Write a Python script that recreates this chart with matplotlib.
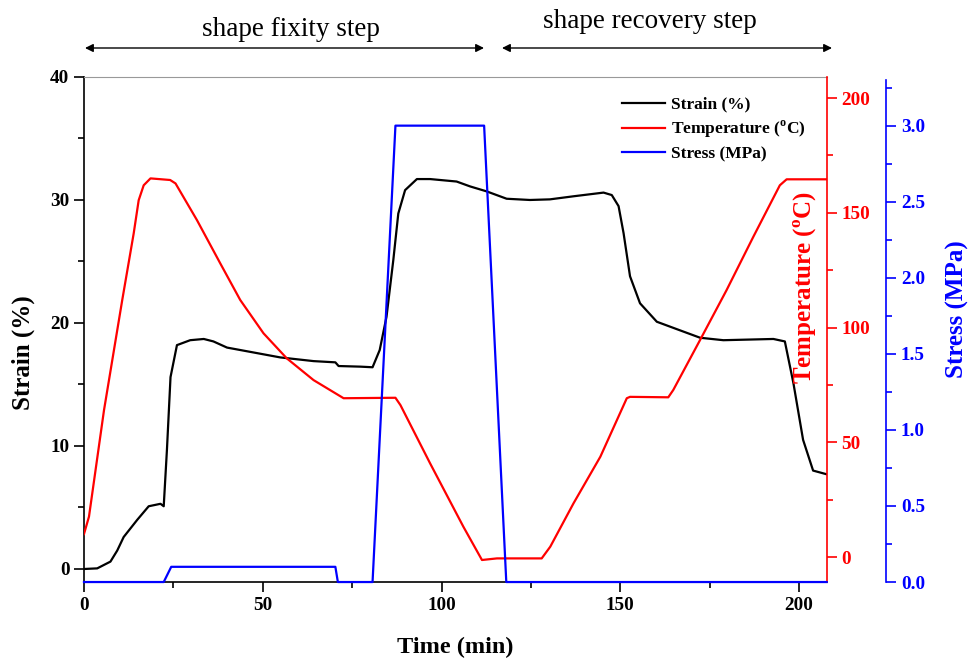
import numpy as np
import matplotlib
matplotlib.use('Agg')
import matplotlib.pyplot as plt
from matplotlib.ticker import MultipleLocator

plt.rcParams['font.family'] = ['Liberation Serif', 'DejaVu Serif']
plt.rcParams['font.weight'] = 'bold'
plt.rcParams['axes.labelweight'] = 'bold'
plt.rcParams['mathtext.fontset'] = 'custom'
plt.rcParams['mathtext.rm'] = 'Liberation Serif:bold'

# strain (%) vs time (min)
t_strain = [0, 3.7, 7.4, 9.3, 11.1, 14.9, 18.1, 21.4, 22.3, 23.2, 24.2, 26.0, 29.7, 33.5,
            36.2, 40, 45.6, 54.9, 64.2, 70.3, 71.2, 77.3, 80.7, 82.7, 84.6, 86.5, 87.9,
            89.8, 93.1, 96.8, 104.2, 108, 112.6, 118.2, 124.7, 130.3, 136.9, 145.3, 147.6,
            149.5, 150.9, 152.7, 155.5, 160.2, 166.7, 172.3, 178.8, 192.8, 196, 198.4,
            201.1, 203.9, 207.7]
strain = [0, 0.05, 0.6, 1.5, 2.6, 4.0, 5.1, 5.3, 5.1, 9.7, 15.6, 18.2, 18.6, 18.7,
          18.5, 18.0, 17.7, 17.2, 16.9, 16.8, 16.5, 16.45, 16.4, 17.8, 20.5, 25.1, 28.9,
          30.8, 31.7, 31.7, 31.5, 31.1, 30.7, 30.1, 30.0, 30.05, 30.3, 30.6, 30.4,
          29.5, 27.3, 23.8, 21.6, 20.1, 19.4, 18.8, 18.6, 18.7, 18.5, 15.1,
          10.5, 8.0, 7.7]

# temperature (C)
t_temp = [0, 1.4, 5.6, 10.7, 13.9, 15.3, 16.7, 18.6, 24.1, 25.6, 31.6, 38.1, 43.7, 50.2,
          56.7, 64.2, 72.6, 87.1, 88.5, 96.8, 106.1, 111.3, 115.5, 128, 130.4, 136.9,
          144.4, 151.8, 152.7, 163.4, 164.8, 172.3, 179.7, 187.2, 194.6, 196.5, 207.7]
temp = [10, 17.6, 64, 112, 141, 155.5, 162, 165, 164.3, 162.8, 146.8, 128, 112, 97.5,
        86.6, 77.1, 69.2, 69.4, 66.2, 40.8, 13.2, -1.3, -0.6, -0.6, 4.5, 23.4,
        43.7, 69.2, 69.8, 69.6, 72.8, 94.6, 116.3, 139.6, 162, 164.6, 164.6]

# stress (MPa)
t_stress = [0, 22.3, 24.4, 70.3, 71.0, 80.7, 87.1, 111.9, 118.1, 207.7]
stress = [0, 0, 0.1, 0.1, 0, 0, 3.0, 3.0, 0, 0]

fig = plt.figure(figsize=(9.72, 6.59), dpi=100)
ax = fig.add_axes([0.0864, 0.1168, 0.7641, 0.7664])
ax2 = ax.twinx()
ax3 = ax.twinx()

l1, = ax.plot(t_strain, strain, color='black', lw=1.6, label='Strain (%)')
l2, = ax2.plot(t_temp, temp, color='#ff0000', lw=1.6, label='Temperature ($^{\\rm o}$C)')
l3, = ax3.plot(t_stress, stress, color='#0000ff', lw=1.6, label='Stress (MPa)', clip_on=False)

ax.set_xlim(0, 207.7)
ax.set_ylim(-1.06, 40)
ax2.set_ylim(-10.9, 209.2)
ax3.set_ylim(0, 3.32)

ax.xaxis.set_major_locator(MultipleLocator(50))
ax.xaxis.set_minor_locator(MultipleLocator(25))
ax.yaxis.set_major_locator(MultipleLocator(10))
ax.yaxis.set_minor_locator(MultipleLocator(5))
ax2.yaxis.set_major_locator(MultipleLocator(50))
ax2.yaxis.set_minor_locator(MultipleLocator(25))
ax3.yaxis.set_major_locator(MultipleLocator(0.5))
ax3.yaxis.set_minor_locator(MultipleLocator(0.25))
ax3.yaxis.set_major_formatter(matplotlib.ticker.FormatStrFormatter('%.1f'))

for a in (ax, ax2, ax3):
    a.tick_params(which='major', length=7, width=1.2, labelsize=13.8)
    a.tick_params(which='minor', length=4, width=1.2)

ax.spines['left'].set_linewidth(1.2)
ax.spines['bottom'].set_linewidth(1.2)
ax.spines['top'].set_color('#999999')
ax.spines['top'].set_linewidth(0.8)
ax.spines['right'].set_visible(False)

for a in (ax2, ax3):
    a.spines['top'].set_visible(False)
    a.spines['left'].set_visible(False)
    a.spines['bottom'].set_visible(False)

ax2.spines['right'].set_color('#ff0000')
ax2.spines['right'].set_linewidth(1.2)
ax2.tick_params(axis='y', which='both', colors='#ff0000')

ax3.spines['right'].set_position(('outward', 43))
ax3.spines['right'].set_color('#0000ff')
ax3.spines['right'].set_linewidth(1.2)
ax3.spines['right'].set_bounds(0, 3.3)
ax3.tick_params(axis='y', which='both', colors='#0000ff')

ax.set_xlabel('Time (min)', fontsize=17.5, fontweight='bold')
ax.xaxis.label.set_va('center')
ax.xaxis.set_label_coords(0.5, -0.13)
ax.set_ylabel('Strain (%)', fontsize=18, fontweight='bold')
ax.yaxis.label.set_va('center')
ax.yaxis.set_label_coords(-0.082, 0.455)
ax2.set_ylabel('Temperature ($^{\\rm o}$C)', fontsize=18, fontweight='bold', color='#ff0000')
ax2.yaxis.label.set_va('center')
ax2.yaxis.set_label_coords(0.972, 0.584)
ax3.set_ylabel('Stress (MPa)', fontsize=18, fontweight='bold', color='#0000ff')
ax3.yaxis.label.set_va('center')
ax3.yaxis.set_label_coords(1.176, 0.54)

ax.legend(handles=[l1, l2, l3], loc='upper left', bbox_to_anchor=(0.715, 0.975),
          frameon=False, fontsize=12.5, handlelength=2.5, handletextpad=0.35,
          labelspacing=0.35, borderaxespad=0)

# step arrows at the top
arr = dict(arrowstyle='<|-|>', color='black', lw=1.0, mutation_scale=12,
           shrinkA=0, shrinkB=0)
fig.add_artist(matplotlib.patches.FancyArrowPatch((85 / 972, 1 - 48 / 659),
                                                  (484 / 972, 1 - 48 / 659),
                                                  transform=fig.transFigure, **arr))
fig.add_artist(matplotlib.patches.FancyArrowPatch((502 / 972, 1 - 48 / 659),
                                                  (832 / 972, 1 - 48 / 659),
                                                  transform=fig.transFigure, **arr))
fig.text(291 / 972, 1 - 29 / 659, 'shape fixity step', ha='center', va='center',
         fontsize=19.5, fontweight='normal')
fig.text(650 / 972, 1 - 21 / 659, 'shape recovery step', ha='center', va='center',
         fontsize=19.5, fontweight='normal')

fig.savefig('out.png', dpi=100)
